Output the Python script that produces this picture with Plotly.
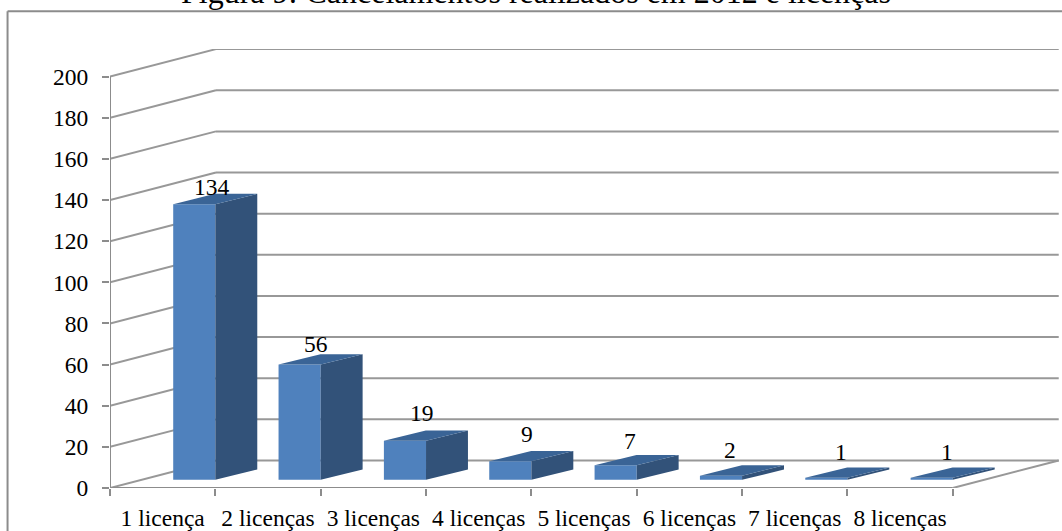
import plotly.graph_objects as go

# Chart data
categories = ["1 licença", "2 licenças", "3 licenças", "4 licenças",
              "5 licenças", "6 licenças", "7 licenças", "8 licenças"]
cancelamentos = [134, 56, 19, 9, 7, 2, 1, 1]
y_ticks = [0, 20, 40, 60, 80, 100, 120, 140, 160, 180, 200]
title_text = "Figura 9: Cancelamentos realizados em 2012 e licenças"

# Page and plot frame, in pixels
W, H = 1062, 531
LEFT, RIGHT, TOP, BOTTOM = 109.5, 1059.0, 48.7, 487.7

# Scales of the oblique projection
PX_PER_CAT = 105.4
PX_PER_UNIT = 2.057
X_MAX = (RIGHT - LEFT) / PX_PER_CAT
Y_MAX = (BOTTOM - TOP) / PX_PER_UNIT

# Depth of the floor, expressed in axis units
FLOOR_DX = 1.006
FLOOR_DY = 13.37

# Bar placement within a category slot
BAR_LEFT = 0.6
BAR_WIDTH = 0.4
BAR_BASE = 4.0
BAR_DX = 0.398
BAR_DY = 5.0

GRID = "#989898"
AXIS = "#8c8c8c"
FRONT = "#4f81bd"
SIDE = "#325279"
CAP = "#3a6496"
FONT = "Liberation Serif"
n = len(categories)


def paper_x(px):
    return (px - LEFT) / (RIGHT - LEFT)


def paper_y(py):
    return (BOTTOM - py) / (BOTTOM - TOP)


fig = go.Figure()

# Front faces of the columns
fig.add_trace(go.Bar(
    x=[i + BAR_LEFT + BAR_WIDTH / 2 for i in range(n)],
    y=cancelamentos,
    base=BAR_BASE,
    width=BAR_WIDTH,
    marker=dict(color=FRONT, line=dict(width=0)),
    hoverinfo="skip",
))

# Side and top faces, derived from each column's value
for i, v in enumerate(cancelamentos):
    x0 = i + BAR_LEFT
    x1 = x0 + BAR_WIDTH
    top = BAR_BASE + v
    fig.add_trace(go.Scatter(
        x=[x1, x1 + BAR_DX, x1 + BAR_DX, x1, x1],
        y=[BAR_BASE, BAR_BASE + BAR_DY, top + BAR_DY, top, BAR_BASE],
        fill="toself", fillcolor=SIDE, mode="lines",
        line=dict(width=0, color=SIDE), hoverinfo="skip",
    ))
    fig.add_trace(go.Scatter(
        x=[x0, x1, x1 + BAR_DX, x0 + BAR_DX, x0],
        y=[top, top, top + BAR_DY, top + BAR_DY, top],
        fill="toself", fillcolor=CAP, mode="lines",
        line=dict(width=0, color=CAP), hoverinfo="skip",
    ))

# Axis lines, stopping at the last tick instead of the plot edge
fig.add_trace(go.Scatter(
    x=[0, 0], y=[y_ticks[0], y_ticks[-1]], mode="lines", cliponaxis=False,
    line=dict(color=AXIS, width=2), hoverinfo="skip",
))
fig.add_trace(go.Scatter(
    x=[0, n], y=[0, 0], mode="lines", cliponaxis=False,
    line=dict(color=AXIS, width=2), hoverinfo="skip",
))

# Wall and back gridlines, plus the right edge of the floor
shapes = []
for v in y_ticks:
    for a, b, c, d in [(0, v, FLOOR_DX, v + FLOOR_DY),
                       (FLOOR_DX, v + FLOOR_DY, n + FLOOR_DX, v + FLOOR_DY)]:
        shapes.append(dict(type="line", layer="below", xref="x", yref="y",
                           x0=a, y0=b, x1=c, y1=d,
                           line=dict(color=GRID, width=2)))
shapes.append(dict(type="line", layer="below", xref="x", yref="y",
                   x0=n, y0=0, x1=n + FLOOR_DX, y1=FLOOR_DY,
                   line=dict(color=GRID, width=2)))

# Outer frame, running off the page to the right and bottom
shapes.append(dict(type="line", xref="paper", yref="paper",
                   x0=paper_x(7), x1=paper_x(W + 5), y0=paper_y(11), y1=paper_y(11),
                   line=dict(color=AXIS, width=2)))
shapes.append(dict(type="line", xref="paper", yref="paper",
                   x0=paper_x(7), x1=paper_x(7), y0=paper_y(11), y1=paper_y(H + 5),
                   line=dict(color=AXIS, width=2)))

# Value labels, with a small hand placement per column
nudge_x = [18, 16, 17, 17, 14, 9, 15, 15]
nudge_y = [17, 21, 28, 27, 24, 26, 26, 26]
annotations = [
    dict(x=i + BAR_LEFT + BAR_WIDTH / 2, y=BAR_BASE + v, xref="x", yref="y",
         text=str(v), showarrow=False, xanchor="center", yanchor="middle",
         xshift=nudge_x[i], yshift=nudge_y[i],
         font=dict(family=FONT, size=23.5, color="black"))
    for i, v in enumerate(cancelamentos)
]
annotations.append(dict(
    x=paper_x(536), y=paper_y(-8), xref="paper", yref="paper",
    text=title_text, showarrow=False, xanchor="center", yanchor="middle",
    font=dict(family=FONT, size=32, color="black"),
))

fig.update_layout(
    width=W, height=H,
    margin=dict(l=LEFT, r=W - RIGHT, t=TOP, b=H - BOTTOM, pad=0),
    paper_bgcolor="white", plot_bgcolor="white",
    showlegend=False, shapes=shapes, annotations=annotations,
    font=dict(family=FONT, size=23.5, color="black"),
    xaxis=dict(
        range=[0, X_MAX], showgrid=False, zeroline=False, showline=False,
        tickmode="array",
        tickvals=[i + 0.5 for i in range(n)], ticktext=categories,
        ticks="", tickangle=0, automargin=False, ticklabelstandoff=13,
        minor=dict(tickmode="array", tickvals=list(range(n + 1)), ticks="outside",
                   ticklen=7, tickwidth=2, tickcolor=AXIS, showgrid=False),
    ),
    yaxis=dict(
        range=[0, Y_MAX], showgrid=False, zeroline=False, showline=False,
        tickmode="array", tickvals=y_ticks, ticks="outside",
        ticklen=7, tickwidth=2, tickcolor=AXIS, automargin=False,
        ticklabelstandoff=9,
    ),
)

fig.write_html("out.html")
